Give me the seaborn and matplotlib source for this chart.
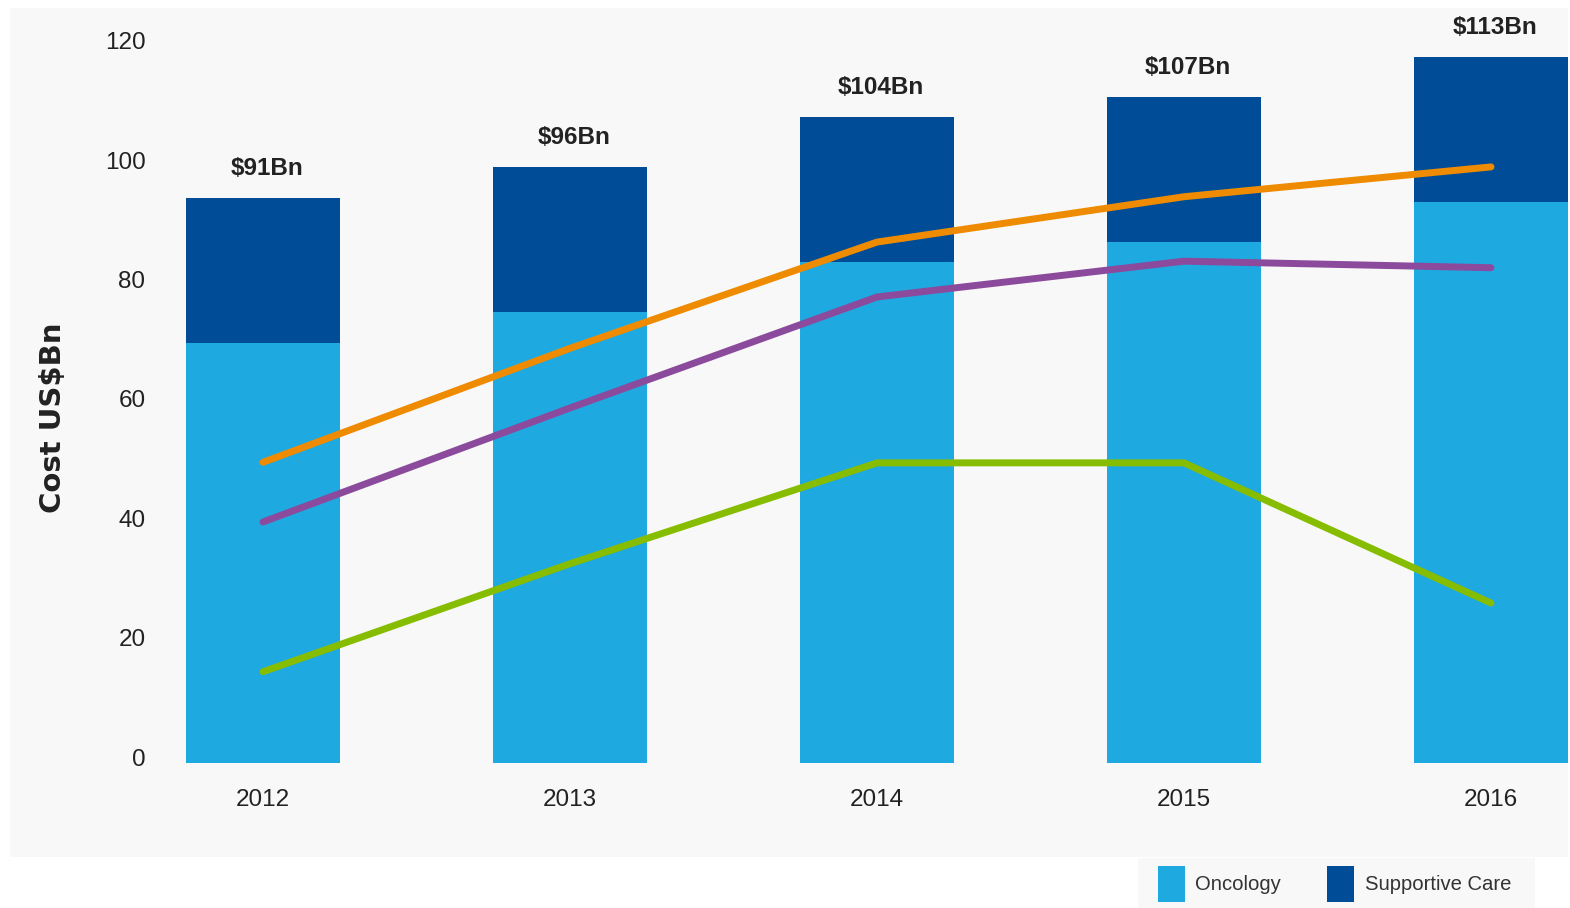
import numpy as np
import pandas as pd
import matplotlib
matplotlib.use("Agg")
import matplotlib.pyplot as plt
import matplotlib.transforms as mtransforms
from matplotlib.patches import Rectangle, Patch
from matplotlib import font_manager
import seaborn as sns

# ---------------- data ----------------
years = ["2012", "2013", "2014", "2015", "2016"]
oncology = [70.4, 75.6, 84.0, 87.3, 94.0]
supportive_care = [24.3, 24.3, 24.3, 24.3, 24.3]
bar_labels = ["$91Bn", "$96Bn", "$104Bn", "$107Bn", "$113Bn"]
line_orange = [50.4, 69.5, 87.3, 94.9, 99.9]
line_purple = [40.4, 59.5, 78.1, 84.1, 83.0]
line_green = [15.3, 33.4, 50.3, 50.3, 26.8]
y_ticks = [0, 20, 40, 60, 80, 100, 120]
legend_labels = ["Oncology", "Supportive Care"]

# ---------------- style ----------------
C_ONC = "#1ea9e1"
C_SUP = "#004c97"
C_OR = "#ef8b00"
C_PU = "#8b4a9c"
C_GR = "#86bd00"
PANEL = "#f8f8f8"
TXT = "#222222"

sns.set_theme(style="white")
names = {f.name for f in font_manager.fontManager.ttflist}
narrow = "Liberation Sans Narrow" if "Liberation Sans Narrow" in names else "Liberation Sans"
plt.rcParams["font.family"] = [narrow, "DejaVu Sans"]

W, H, DPI = 1570, 908, 100
fig = plt.figure(figsize=(W / DPI, H / DPI), dpi=DPI, facecolor="white")

# panel and axes geometry (pixels)
pl, pr, pt, pb = 10, 1568, 8, 857
ax = fig.add_axes([pl / W, (H - pb) / H, (pr - pl) / W, (pb - pt) / H])
ax.set_facecolor(PANEL)

df = pd.DataFrame({"year": years, "onc": oncology, "sup": supportive_care})
df["total"] = df["onc"] + df["sup"]

sns.barplot(data=df, x="year", y="total", color=C_SUP, width=0.5,
            saturation=1, linewidth=0, ax=ax)
sns.barplot(data=df, x="year", y="onc", color=C_ONC, width=0.5,
            saturation=1, linewidth=0, ax=ax)

xpos = np.arange(len(years))
for vals, col in [(line_orange, C_OR), (line_purple, C_PU), (line_green, C_GR)]:
    sns.lineplot(x=xpos, y=vals, color=col, linewidth=5.0, ax=ax,
                 solid_capstyle="round", solid_joinstyle="miter", legend=False)

# scales
x0 = 263.0
step = 307.0
ax.set_xlim((pl - x0) / step, (pr - x0) / step)
zero_px, ppu = 763.0, 5.967
ax.set_ylim(-(pb - zero_px) / ppu, (zero_px - pt) / ppu)
ax.set_yticks(y_ticks)
ax.set_yticklabels([str(v) for v in y_ticks])
ax.set_xticks(xpos)
ax.set_xticklabels(years)

for s in ax.spines.values():
    s.set_visible(False)
ax.grid(False)
ax.tick_params(axis="y", length=0, pad=-97.5, labelsize=17.5, labelcolor=TXT)
ax.tick_params(axis="x", length=0, pad=-49, labelsize=17.5, labelcolor=TXT)
off = mtransforms.ScaledTranslation(0, 6 / DPI, fig.dpi_scale_trans)
for lab in ax.get_yticklabels():
    lab.set_transform(lab.get_transform() + off)

ax.set_xlabel("")
ax.set_ylabel("Cost US$Bn", fontsize=21, fontweight="bold", color=TXT,
              family=["DejaVu Sans"])
ax.yaxis.set_label_coords((67 - pl) / (pr - pl), (pb - 418) / (pb - pt))

for i, (t, lab) in enumerate(zip(df["total"], bar_labels)):
    ax.annotate(lab, xy=(i, t), xytext=(3, 21), textcoords="offset points",
                ha="center", va="center", fontsize=17.5, fontweight="bold",
                color=TXT, family=["Liberation Sans", "DejaVu Sans"])

# legend box
fig.patches.append(Rectangle((1138 / W, 0), (1535 - 1138) / W, (H - 858) / H,
                             transform=fig.transFigure, facecolor=PANEL,
                             edgecolor="none", zorder=0))
handles = [Patch(facecolor=C_ONC, edgecolor="none"),
           Patch(facecolor=C_SUP, edgecolor="none")]
leg = fig.legend(handles, legend_labels, loc="center left",
                 bbox_to_anchor=(1158 / W, (H - 884) / H), ncol=2,
                 frameon=False, fontsize=14.6, handlelength=1.33,
                 handleheight=2.4, handletextpad=0.5, columnspacing=2.3,
                 borderpad=0, borderaxespad=0)
for t in leg.get_texts():
    t.set_color("#333333")

fig.savefig("out.png", dpi=DPI, facecolor="white")
